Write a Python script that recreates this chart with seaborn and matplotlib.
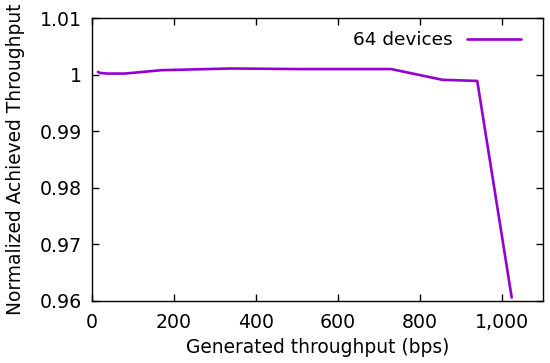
import numpy as np
import pandas as pd
import matplotlib
matplotlib.use("Agg")
import matplotlib.pyplot as plt
from matplotlib.ticker import FuncFormatter
import seaborn as sns

generated = [15, 20, 40, 80, 170, 340, 500, 730, 855, 940, 1024]
achieved = [1.0005, 1.0003, 1.0002, 1.0002, 1.0008, 1.0011, 1.0010, 1.0010, 0.9991, 0.9989, 0.9606]
series = "64 devices"

df = pd.DataFrame({"generated": generated, "achieved": achieved, "series": series})

sns.set_style("ticks")
plt.rcParams["font.family"] = ["DejaVu Sans"]
plt.rcParams["text.color"] = "black"
plt.rcParams["axes.labelcolor"] = "black"

fig = plt.figure(figsize=(5.5, 3.63), dpi=100)
ax = fig.add_axes([0.167, 0.171, 0.820, 0.779])

sns.lineplot(data=df, x="generated", y="achieved", hue="series",
             palette=["#9400d3"], linewidth=1.9, ax=ax)

ax.set_xlim(0, 1100)
ax.set_ylim(0.96, 1.01)
ax.set_xticks([0, 200, 400, 600, 800, 1000])
ax.set_yticks([0.96, 0.97, 0.98, 0.99, 1.0, 1.01])
ax.xaxis.set_major_formatter(FuncFormatter(lambda v, p: f"{int(v):,}"))
ax.yaxis.set_major_formatter(FuncFormatter(lambda v, p: "1" if abs(v - 1) < 1e-9 else f"{v:.2f}"))
ax.tick_params(direction="in", length=5, width=1, top=True, right=True,
               labelsize=13.6, colors="black")
ax.tick_params(axis="x", pad=9)
ax.tick_params(axis="y", pad=7)
for s in ax.spines.values():
    s.set_linewidth(1)
    s.set_color("black")

ax.set_xlabel("Generated throughput (bps)", fontsize=13.4, labelpad=4)
ax.set_ylabel("Normalized Achieved Throughput", fontsize=13.4, labelpad=11)

ax.legend(loc="upper right", bbox_to_anchor=(0.98, 1.0), frameon=False,
          markerfirst=False, fontsize=13.3, handlelength=2.9, borderaxespad=0.3)

fig.savefig("out.png", dpi=100)
